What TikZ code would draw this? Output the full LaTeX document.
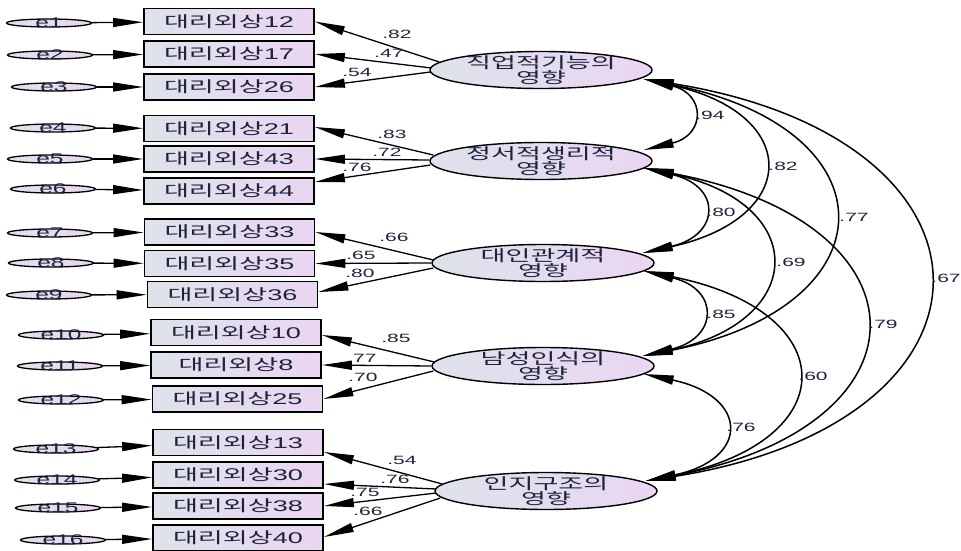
\documentclass[tikz,border=0pt]{standalone}
\usepackage{fontspec}
\usetikzlibrary{shapes.geometric,arrows.meta}
\newfontfamily\kr[FakeStretch=1.75]{Noto Sans CJK KR}
\newfontfamily\lat[FakeStretch=1.75]{Liberation Sans}
\definecolor{bxL}{RGB}{222,226,234}
\definecolor{bxR}{RGB}{234,214,243}
\definecolor{txt}{RGB}{30,35,60}
\newcommand\bx[1]{대리외상{\lat #1}}
\begin{document}
\begin{tikzpicture}[x=1pt,y=-1pt,
  box/.style={draw=black, line width=1.8pt, left color=bxL, right color=bxR,
    minimum width=170pt, minimum height=26pt, inner sep=0pt, text=txt,
    font=\kr\fontsize{15.5}{16}\selectfont},
  err/.style={ellipse, draw=black, line width=1.3pt, left color=bxL, right color=bxR,
    minimum width=85pt, minimum height=8pt, inner sep=0pt},
  elab/.style={font=\lat\fontsize{14}{14}\selectfont, text=txt, inner sep=0pt},
  latv/.style={ellipse, draw=black, line width=1.4pt, left color=bxL, right color=bxR,
    minimum width=222pt, minimum height=37pt, inner sep=0pt},
  lattxt/.style={align=center, font=\kr\fontsize{15.5}{15}\selectfont, text=txt, inner sep=0pt},
  lbl/.style={font=\lat\fontsize{12}{12}\selectfont, text=txt, inner sep=0pt},
  eh/.style={-{Triangle[length=30pt,width=9pt]}, line width=1.3pt},
  cov/.style={{Triangle[length=30pt,width=9pt]}-{Triangle[length=30pt,width=9pt]}, line width=1.5pt}
]
\useasboundingbox (0,0) rectangle (961,551);

% observed boxes
\node[box] (b1) at (229,21.5) {\bx{12}};
\node[box] (b2) at (229,54) {\bx{17}};
\node[box] (b3) at (229,87) {\bx{26}};
\node[box] (b4) at (229,128.5) {\bx{21}};
\node[box] (b5) at (229,159) {\bx{43}};
\node[box] (b6) at (229,191) {\bx{44}};
\node[box] (b7) at (229.5,232) {\bx{33}};
\node[box] (b8) at (229.5,263.5) {\bx{35}};
\node[box] (b9) at (232.5,294.5) {\bx{36}};
\node[box] (b10) at (236,332.5) {\bx{10}};
\node[box] (b11) at (236,365) {\bx{8}};
\node[box] (b12) at (237.5,399) {\bx{25}};
\node[box] (b13) at (238,442.5) {\bx{13}};
\node[box] (b14) at (238,475) {\bx{30}};
\node[box] (b15) at (238,506) {\bx{38}};
\node[box] (b16) at (238,538) {\bx{40}};

% error terms
\node[err,label={[elab]center:e1}] (e1) at (49,23) {};
\node[err,label={[elab]center:e2}] (e2) at (50,55) {};
\node[err,label={[elab]center:e3}] (e3) at (54,87) {};
\node[err,label={[elab]center:e4}] (e4) at (53,128) {};
\node[err,label={[elab]center:e5}] (e5) at (50,159) {};
\node[err,label={[elab]center:e6}] (e6) at (53,189) {};
\node[err,label={[elab]center:e7}] (e7) at (50,233) {};
\node[err,label={[elab]center:e8}] (e8) at (51,263) {};
\node[err,label={[elab]center:e9}] (e9) at (49,295) {};
\node[err,label={[elab]center:e10}] (e10) at (61,335) {};
\node[err,label={[elab]center:e11}] (e11) at (60,366) {};
\node[err,label={[elab]center:e12}] (e12) at (61,400) {};
\node[err,label={[elab]center:e13}] (e13) at (56,449) {};
\node[err,label={[elab]center:e14}] (e14) at (57,480) {};
\node[err,label={[elab]center:e15}] (e15) at (58,508) {};
\node[err,label={[elab]center:e16}] (e16) at (63,540) {};

\foreach \i in {1,...,16} { \draw[eh] (e\i) -- (b\i); }

% latent variables
\node[latv] (F1) at (541,70) {};
\node[lattxt] (F1x) at (F1) {직업적기능의\\영향};
\node[latv] (F2) at (541,161) {};
\node[lattxt] (F2x) at (F2) {정서적생리적\\영향};
\node[latv] (F3) at (543,263) {};
\node[lattxt] (F3x) at (F3) {대인관계적\\영향};
\node[latv] (F4) at (543,366) {};
\node[lattxt] (F4x) at (F4) {남성인식의\\영향};
\node[latv] (F5) at (546,491) {};
\node[lattxt] (F5x) at (F5) {인지구조의\\영향};

% loadings
\draw[eh] ([xshift=10pt,yshift=8pt]F1.west) -- (b1.east);
\draw[eh] ([xshift=2pt,yshift=2pt]F1.west) -- (b2.east);
\draw[eh] ([xshift=1pt,yshift=-2pt]F1.west) -- (b3.east);
\draw[eh] ([xshift=4pt,yshift=6pt]F2.west) -- ([yshift=1.5pt]b4.east);
\draw[eh] ([xshift=0pt,yshift=1pt]F2.west) -- (b5.east);
\draw[eh] ([xshift=1pt,yshift=-4pt]F2.west) -- ([yshift=9pt]b6.east);
\draw[eh] ([xshift=2pt,yshift=3pt]F3.west) -- (b7.east);
\draw[eh] (F3.west) -- (b8.east);
\draw[eh] ([xshift=2pt,yshift=-5pt]F3.west) -- ([yshift=2.5pt]b9.east);
\draw[eh] ([xshift=3pt,yshift=4pt]F4.west) -- ([yshift=-2.5pt]b10.east);
\draw[eh] (F4.west) -- (b11.east);
\draw[eh] ([xshift=2pt,yshift=-5pt]F4.west) -- (b12.east);
\draw[eh] ([xshift=8pt,yshift=7pt]F5.west) -- ([yshift=-9.5pt]b13.east);
\draw[eh] ([xshift=2pt,yshift=2pt]F5.west) -- ([yshift=-9pt]b14.east);
\draw[eh] ([xshift=2pt,yshift=-2pt]F5.west) -- (b15.east);
\draw[eh] ([xshift=6pt,yshift=-7pt]F5.west) -- ([yshift=1pt]b16.east);

\node[lbl] (l1) at (397,34) {.82};
\node[lbl] (l2) at (389,53) {.47};
\node[lbl] (l3) at (357,72) {.54};
\node[lbl] (l4) at (392,134) {.83};
\node[lbl] (l5) at (387,152) {.72};
\node[lbl] (l6) at (357,167) {.76};
\node[lbl] (l7) at (394,237) {.66};
\node[lbl] (l8) at (361,255) {.65};
\node[lbl] (l9) at (360,273) {.80};
\node[lbl] (l10) at (396,338) {.85};
\node[lbl] (l11) at (362,358) {.77};
\node[lbl] (l12) at (363,377) {.70};
\node[lbl] (l13) at (402,460) {.54};
\node[lbl] (l14) at (395,479) {.76};
\node[lbl] (l15) at (365,492) {.75};
\node[lbl] (l16) at (368,511) {.66};

% covariance end points
\coordinate (F1b) at ([xshift=-9pt,yshift=-9pt]F1.east);
\coordinate (F2t) at ([xshift=-9pt,yshift=11pt]F2.east);
\coordinate (F2b) at ([xshift=-9pt,yshift=-7pt]F2.east);
\coordinate (F3t) at ([xshift=-12pt,yshift=10pt]F3.east);
\coordinate (F3b) at ([xshift=-11pt,yshift=-8pt]F3.east);
\coordinate (F4t) at ([xshift=-12pt,yshift=10pt]F4.east);
\coordinate (F4b) at ([xshift=-11pt,yshift=-8pt]F4.east);
\coordinate (F5t) at ([xshift=-12pt,yshift=10pt]F5.east);

\draw[cov] (F1b) .. controls +(62,15) and +(62,-15) .. (F2t);
\draw[cov] (F1b) .. controls +(158,35) and +(158,-35) .. (F3t);
\draw[cov] (F1b) .. controls +(251,50) and +(251,-50) .. (F4t);
\draw[cov] (F1b) .. controls +(375,60) and +(375,-60) .. (F5t);
\draw[cov] (F2b) .. controls +(78,18) and +(78,-18) .. (F3t);
\draw[cov] (F2b) .. controls +(166,35) and +(166,-35) .. (F4t);
\draw[cov] (F2b) .. controls +(291,55) and +(291,-55) .. (F5t);
\draw[cov] (F3b) .. controls +(76,18) and +(76,-18) .. (F4t);
\draw[cov] (F3b) .. controls +(200,40) and +(200,-40) .. (F5t);
\draw[cov] (F4b) .. controls +(105,22) and +(105,-22) .. (F5t);

\node[lbl] (c1) at (710,115) {.94};
\node[lbl] (c2) at (783,166) {.82};
\node[lbl] (c3) at (854,217) {.77};
\node[lbl] (c4) at (946,278) {.67};
\node[lbl] (c5) at (721,212) {.80};
\node[lbl] (c6) at (791,262) {.69};
\node[lbl] (c7) at (883,324) {.79};
\node[lbl] (c8) at (721,314) {.85};
\node[lbl] (c9) at (813,376) {.60};
\node[lbl] (c10) at (741,427) {.76};
\end{tikzpicture}
\end{document}
